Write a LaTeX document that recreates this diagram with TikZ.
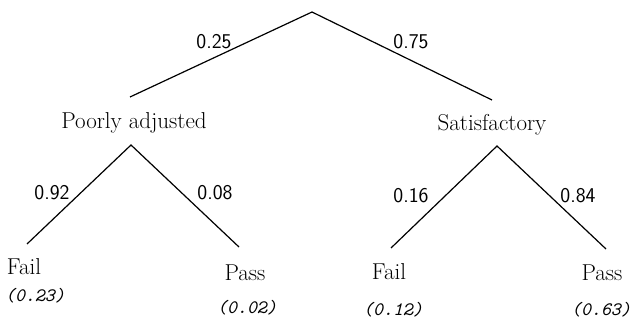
\documentclass[tikz,border=0pt]{standalone}
\usepackage{fontspec}
\begin{document}
\begin{tikzpicture}[x=1pt,y=-1pt,
  branch/.style={line width=1.2pt},
  prob/.style={inner sep=0pt,font=\sffamily\fontsize{21}{24}\selectfont},
  state/.style={inner sep=0pt,font=\fontsize{23}{26}\selectfont},
  joint/.style={inner sep=0pt,font=\ttfamily\itshape\fontsize{19}{22}\selectfont}]
\useasboundingbox (0,0) rectangle (632,320);

% branching points and branch ends
\coordinate (root) at (312,12);
\coordinate (endP) at (130,97);
\coordinate (endS) at (492,100);
\coordinate (splitP) at (131,145);
\coordinate (endPF) at (27,244);
\coordinate (endPP) at (239,247);
\coordinate (splitS) at (497,146);
\coordinate (endSF) at (391,248);
\coordinate (endSP) at (606,249);

% branches
\draw[branch] (endP) -- (root) -- (endS);
\draw[branch] (endPF) -- (splitP) -- (endPP);
\draw[branch] (endSF) -- (splitS) -- (endSP);

% branch probabilities
\node[prob] (p1) at (214,42) {0.25};
\node[prob] (p2) at (411,42) {0.75};
\node[prob] (p3) at (52,193) {0.92};
\node[prob] (p4) at (215,193) {0.08};
\node[prob] (p5) at (411,196) {0.16};
\node[prob] (p6) at (578,196) {0.84};

% states
\node[state] (poor) at (134,123) {Poorly adjusted};
\node[state] (sat) at (492,125) {Satisfactory};
\node[state] (f1) at (24,267) {Fail};
\node[state] (s1) at (245,273) {Pass};
\node[state] (f2) at (389,272) {Fail};
\node[state] (s2) at (602,273) {Pass};

% joint probabilities
\node[joint] (j1) at (35,296) {(0.23)};
\node[joint] (j2) at (247,308) {(0.02)};
\node[joint] (j3) at (393,310) {(0.12)};
\node[joint] (j4) at (601,310) {(0.63)};
\end{tikzpicture}
\end{document}
